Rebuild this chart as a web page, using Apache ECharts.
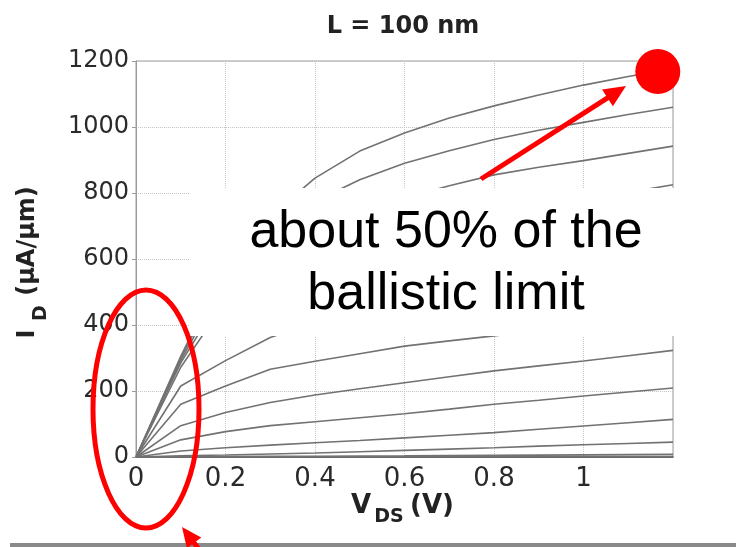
<!DOCTYPE html>
<html>
<head>
<meta charset="utf-8">
<script src="https://cdn.jsdelivr.net/npm/echarts@6/dist/echarts.min.js"></script>
<style>
html,body{margin:0;padding:0;background:#ffffff;}
#chart{width:736px;height:547px;}
</style>
</head>
<body>
<div id="chart"></div>
<script>
// V_DS sample points (V)
const vds = [0, 0.1, 0.2, 0.3, 0.4, 0.5, 0.6, 0.7, 0.8, 0.9, 1.0, 1.1, 1.2];
// I_D curves (uA/um), highest gate voltage first
const curve01 = [0, 305, 580, 730, 845, 927, 982, 1027, 1064, 1097, 1127, 1153, 1177];
const curve02 = [0, 300, 560, 690, 775, 840, 890, 928, 962, 990, 1014, 1038, 1060];
const curve03 = [0, 293, 535, 645, 705, 748, 785, 822, 855, 878, 898, 920, 942];
const curve04 = [0, 285, 505, 598, 643, 672, 697, 722, 746, 764, 780, 802, 825];
const curve05 = [0, 272, 470, 543, 575, 598, 617, 634, 650, 665, 679, 690, 700];
const curve06 = [0, 215, 292, 362, 408, 440, 467, 490, 510, 528, 545, 560, 575];
const curve07 = [0, 160, 215, 266, 290, 313, 336, 352, 367, 384, 400, 415, 430];
const curve08 = [0, 95, 135, 165, 188, 207, 225, 243, 261, 276, 291, 307, 323];
const curve09 = [0, 52, 77, 95, 107, 119, 131, 145, 160, 172, 185, 197, 209];
const curve10 = [0, 18, 28, 36, 43, 50, 58, 66, 74, 84, 94, 104, 114];
const curve11 = [0, 4, 6, 9, 12, 16, 20, 24, 28, 33, 37, 41, 45];
const curve12 = [0, 0.6, 1.2, 1.8, 2.4, 3, 3.6, 4.3, 5, 5.8, 6.5, 7.2, 8];
const curve13 = [0, 0.1, 0.2, 0.3, 0.4, 0.5, 0.6, 0.7, 0.8, 0.9, 1.0, 1.1, 1.2];
// ballistic limit marker [V_DS, I_D]
const ballisticPoint = [1.166, 1168];
// tick labels
const xTickLabels = ['0', '0.2', '0.4', '0.6', '0.8', '1', ''];
const yTickLabels = ['0', '200', '400', '600', '800', '1000', '1200'];

const curves = [curve01, curve02, curve03, curve04, curve05, curve06, curve07,
                curve08, curve09, curve10, curve11, curve12, curve13];

const chart = echarts.init(document.getElementById('chart'), null, {renderer: 'canvas'});

const lineSeries = curves.map(function (c) {
  return {
    type: 'line',
    data: vds.map(function (v, i) { return [v, c[i]]; }),
    showSymbol: false,
    symbol: 'none',
    silent: true,
    animation: false,
    z: 3,
    lineStyle: {color: '#727272', width: 1.6}
  };
});

lineSeries.push({
  type: 'scatter',
  data: [ballisticPoint],
  symbol: 'circle',
  symbolSize: 45,
  itemStyle: {color: '#ff0000', opacity: 1},
  silent: true,
  animation: false,
  z: 20
});

function arrow(x1, y1, x2, y2, headLen, headHalf, w) {
  const dx = x2 - x1, dy = y2 - y1;
  const L = Math.sqrt(dx * dx + dy * dy);
  const ux = dx / L, uy = dy / L;
  const bx = x2 - ux * headLen, by = y2 - uy * headLen;
  const px = -uy, py = ux;
  return [
    {type: 'line', z: 120, silent: true,
     shape: {x1: x1, y1: y1, x2: bx + ux * 2, y2: by + uy * 2},
     style: {stroke: '#ff0000', lineWidth: w}},
    {type: 'polygon', z: 120, silent: true,
     shape: {points: [[x2, y2], [bx + px * headHalf, by + py * headHalf], [bx - px * headHalf, by - py * headHalf]]},
     style: {fill: '#ff0000'}}
  ];
}

const graphics = [
  // white label box
  {type: 'rect', z: 100, silent: true,
   shape: {x: 190, y: 188, width: 515, height: 148},
   style: {fill: '#ffffff'}},
  {type: 'text', z: 110, silent: true, x: 446, y: 233,
   style: {text: 'about 50% of the', font: '52px "Liberation Sans", Arial, sans-serif',
           fill: '#000000', align: 'center', verticalAlign: 'middle'}},
  {type: 'text', z: 110, silent: true, x: 446, y: 295,
   style: {text: 'ballistic limit', font: '52px "Liberation Sans", Arial, sans-serif',
           fill: '#000000', align: 'center', verticalAlign: 'middle'}},
  // ellipse around linear region
  {type: 'ellipse', z: 120, silent: true,
   shape: {cx: 146, cy: 409, rx: 53, ry: 119},
   style: {fill: 'none', stroke: '#ff0000', lineWidth: 5}},
  // bottom rule
  {type: 'rect', z: 90, silent: true,
   shape: {x: 10, y: 543, width: 726, height: 4},
   style: {fill: '#8a8a8a'}},
  // title
  {type: 'text', z: 110, silent: true, x: 403, y: 27,
   style: {text: 'L = 100 nm', font: 'bold 24px "DejaVu Sans", sans-serif',
           fill: '#222222', align: 'center', verticalAlign: 'middle'}},
  // y axis title
  {type: 'text', z: 110, silent: true, x: 28, y: 241, rotation: Math.PI / 2,
   style: {text: '(\u00b5A/\u00b5m)', font: 'bold 24px "DejaVu Sans", sans-serif',
           fill: '#222222', align: 'center', verticalAlign: 'middle'}},
  {type: 'text', z: 110, silent: true, x: 28, y: 334, rotation: Math.PI / 2,
   style: {text: 'I', font: 'bold 24px "DejaVu Sans", sans-serif',
           fill: '#222222', align: 'center', verticalAlign: 'middle'}},
  {type: 'text', z: 110, silent: true, x: 41, y: 313, rotation: Math.PI / 2,
   style: {text: 'D', font: 'bold 19px "DejaVu Sans", sans-serif',
           fill: '#222222', align: 'center', verticalAlign: 'middle'}},
  // x axis title
  {type: 'text', z: 110, silent: true, x: 361, y: 506,
   style: {text: 'V', font: 'bold 26px "DejaVu Sans", sans-serif',
           fill: '#222222', align: 'center', verticalAlign: 'middle'}},
  {type: 'text', z: 110, silent: true, x: 389, y: 517,
   style: {text: 'DS', font: 'bold 19px "DejaVu Sans", sans-serif',
           fill: '#222222', align: 'center', verticalAlign: 'middle'}},
  {type: 'text', z: 110, silent: true, x: 432, y: 506,
   style: {text: '(V)', font: 'bold 26px "DejaVu Sans", sans-serif',
           fill: '#222222', align: 'center', verticalAlign: 'middle'}}
].concat(arrow(481, 179, 626, 86, 22, 10, 5))
 .concat(arrow(204, 556, 182, 527, 20, 9, 5));

chart.setOption({
  animation: false,
  backgroundColor: '#ffffff',
  grid: {left: 136, top: 61, width: 537, height: 396, show: true,
         borderColor: '#9a9a9a', borderWidth: 1, backgroundColor: 'transparent'},
  xAxis: {
    type: 'value', min: 0, max: 1.2, interval: 0.2,
    axisLine: {show: true, lineStyle: {color: '#444444', width: 1.5}},
    axisTick: {show: false},
    splitLine: {show: true, lineStyle: {color: '#c4c4c4', type: 'dotted', width: 1}},
    axisLabel: {
      margin: 9, color: '#2a2a2a', fontSize: 26, fontFamily: '"DejaVu Sans", sans-serif',
      showMaxLabel: true, showMinLabel: true,
      formatter: function (v) { return xTickLabels[Math.round(v / 0.2)] || ''; }
    }
  },
  yAxis: {
    type: 'value', min: 0, max: 1200, interval: 200,
    axisLine: {show: true, lineStyle: {color: '#9a9a9a', width: 1}},
    axisTick: {show: true, length: 4, lineStyle: {color: '#9a9a9a'}},
    splitLine: {show: true, lineStyle: {color: '#c4c4c4', type: 'dotted', width: 1}},
    axisLabel: {
      margin: 7, color: '#2a2a2a', fontSize: 24, fontFamily: '"DejaVu Sans", sans-serif',
      formatter: function (v) { return yTickLabels[Math.round(v / 200)] || ''; }
    }
  },
  series: lineSeries,
  graphic: {elements: graphics}
});
</script>
</body>
</html>
